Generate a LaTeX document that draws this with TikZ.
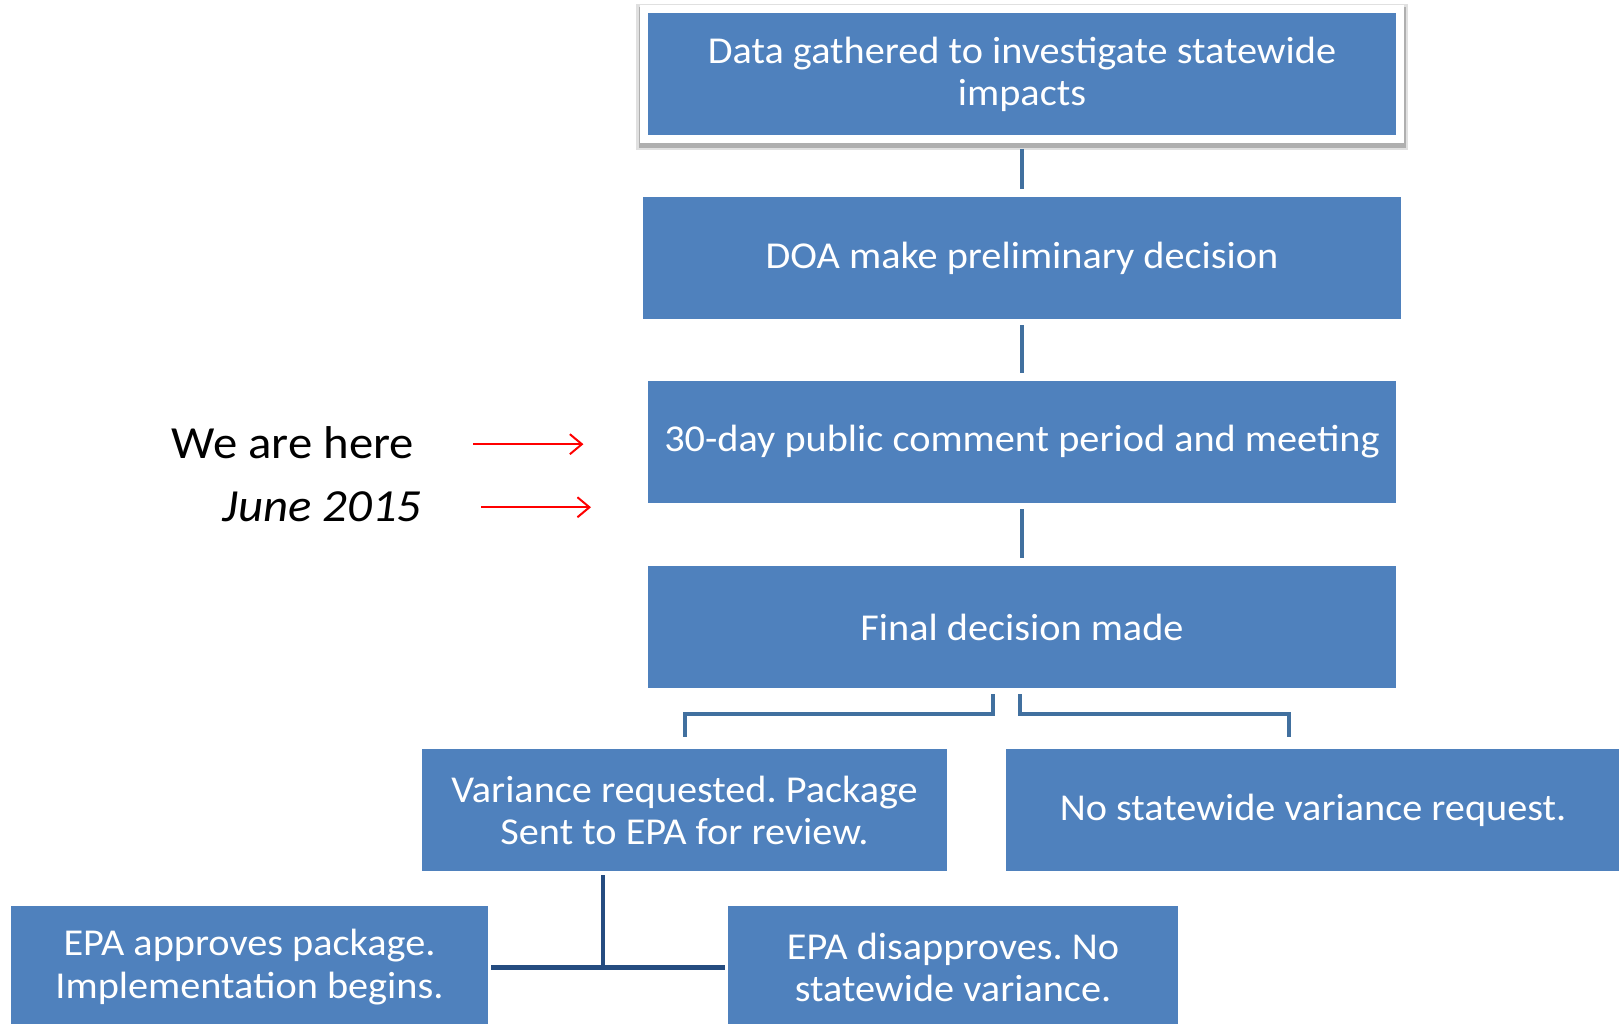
\documentclass[tikz,border=0pt]{standalone}
\usepackage{fontspec}
\setmainfont{Carlito}[FakeStretch=1.06]
\usepackage{xcolor}
\usepackage{tikz}
\usetikzlibrary{positioning,calc,arrows.meta}
\frenchspacing

\definecolor{boxblue}{HTML}{4F81BD}
\definecolor{linkblue}{HTML}{41709F}
\definecolor{treenavy}{HTML}{254C80}

\tikzset{
    stepbox/.style={rectangle, fill=boxblue, text=white, inner sep=0pt,
        minimum height=122pt, align=center,
        font=\fontsize{38}{42}\selectfont},
    link/.style={draw=linkblue, line width=4pt},
    tree/.style={draw=treenavy, line width=5pt},
    pointer/.style={draw=red, line width=2pt, -{Straight Barb[length=12pt,width=20pt,line width=2pt]}},
    framed/.style={draw=white, line width=8pt,
        preaction={draw=black, opacity=0.12, line width=16pt, transform canvas={yshift=-3pt}},
        preaction={draw=black, opacity=0.22, line width=11pt, transform canvas={yshift=-4pt}}}
}

\begin{document}
\begin{tikzpicture}[x=1pt, y=-1pt]
    \useasboundingbox (0,0) rectangle (1619,1024);
    \clip (0,0) rectangle (1619,1024);

    % Main steps
    \node[stepbox, framed, minimum width=756pt, minimum height=130pt]
        (data) at (1022,74) {Data gathered to investigate statewide\\impacts};
    \node[stepbox, minimum width=758pt] (prelim) at (1022,258) {DOA make preliminary decision};
    \node[stepbox, minimum width=748pt] (comment) at (1022,442) {30-day public comment period and meeting};
    \node[stepbox, minimum width=748pt] (final) at (1022,627) {Final decision made};

    % Branches
    \node[stepbox, minimum width=525pt] (variance) at (684.5,810) {Variance requested. Package\\Sent to EPA for review.};
    \node[stepbox, minimum width=614pt] (novar) at (1313,810) {No statewide variance request.};
    \node[stepbox, minimum width=477pt] (approve) at (249.5,967) {EPA approves package.\\[1pt]Implementation begins.};
    \node[stepbox, minimum width=450pt] (disapprove) at (953,967) {EPA disapproves. No\\statewide variance.};

    % Where we are
    \node[anchor=base west, font=\fontsize{46}{54}\selectfont] (here) at (168,458) {We are here};
    \node[anchor=base east, font=\fontsize{46}{54}\selectfont\itshape] (june) at (425,521) {June 2015};
    \draw[pointer] ([xshift=56pt,yshift=-2pt]here.east) -- ++(110,0);
    \draw[pointer] ([xshift=56pt,yshift=-1pt]june.east) -- ++(110,0);

    % Connectors
    \draw[link, shorten <=6pt, shorten >=8pt] (data) -- (prelim);
    \draw[link, shorten <=6pt, shorten >=8pt] (prelim) -- (comment);
    \draw[link, shorten <=6pt, shorten >=8pt] (comment) -- (final);
    \draw[link] ([xshift=-29pt,yshift=-6pt]final.south) -- ++(0,20) -| ([yshift=12pt]variance.north);
    \draw[link] ([xshift=-2pt,yshift=-6pt]final.south) -- ++(0,20) -| ([xshift=-24pt,yshift=12pt]novar.north);
    \draw[tree, shorten <=3pt, shorten >=3pt] (approve.east |- disapprove) -- (disapprove.west);
    \draw[tree, line width=4pt] ([xshift=-82pt,yshift=-4pt]variance.south) -- ++(0,92);

\end{tikzpicture}
\end{document}
